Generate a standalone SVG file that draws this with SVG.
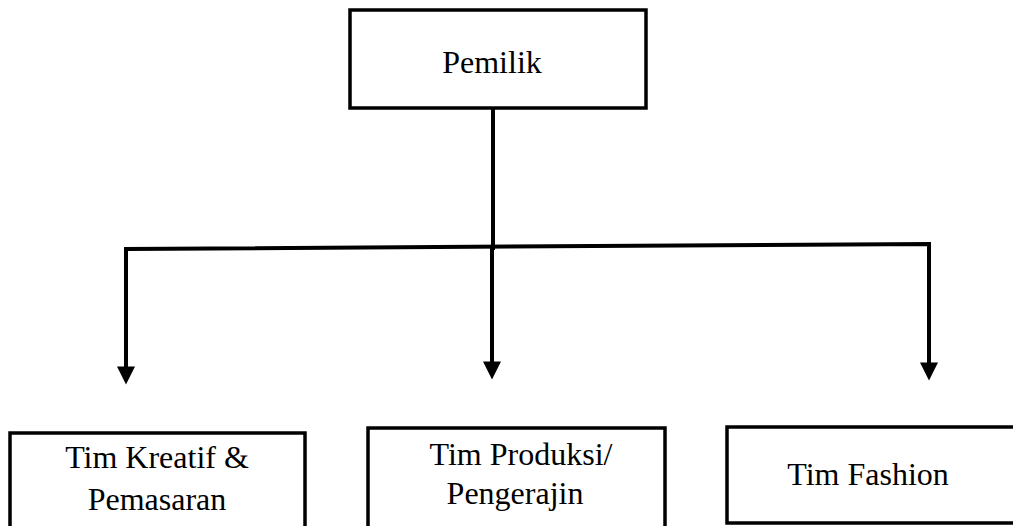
<svg xmlns="http://www.w3.org/2000/svg" width="1013" height="526" viewBox="0 0 1013 526">
<defs>
<style>
.box{fill:#fff;stroke:#000;stroke-width:3.5}
.lbl{font-family:"Liberation Serif","Times New Roman",serif;font-size:32px;fill:#000;text-anchor:middle}
.ln{fill:none;stroke:#000;stroke-width:4}
</style>
<marker id="arr" markerUnits="userSpaceOnUse" markerWidth="18" markerHeight="18" viewBox="0 0 16 16" refX="8" refY="4" orient="0" overflow="visible">
<path d="M0,0 L16,0 L8,16 Z" fill="#000"/>
</marker>
</defs>
<rect width="1013" height="526" fill="#fff"/>
<g id="connectors">
<line class="ln" x1="493" y1="108" x2="493" y2="250"/>
<polyline class="ln" points="126,368 126,249 929,244 929,367" marker-end="url(#arr)"/>
<line class="ln" x1="126" y1="249" x2="126" y2="371" marker-end="url(#arr)"/>
<line class="ln" x1="492" y1="246" x2="492" y2="366" marker-end="url(#arr)"/>
</g>
<g id="pemilik">
<rect class="box" x="350" y="10" width="296" height="98"/>
<text class="lbl" x="492" y="73">Pemilik</text>
</g>
<g id="kreatif">
<rect class="box" x="10" y="433" width="295" height="110"/>
<text class="lbl" x="157" y="468">Tim Kreatif &amp;</text>
<text class="lbl" x="157" y="510">Pemasaran</text>
</g>
<g id="produksi">
<rect class="box" x="368" y="428" width="297" height="110"/>
<text class="lbl" x="521" y="465">Tim Produksi/</text>
<text class="lbl" x="515" y="504">Pengerajin</text>
</g>
<g id="fashion">
<rect class="box" x="727" y="427" width="300" height="96"/>
<text class="lbl" x="868" y="485">Tim Fashion</text>
</g>
</svg>
